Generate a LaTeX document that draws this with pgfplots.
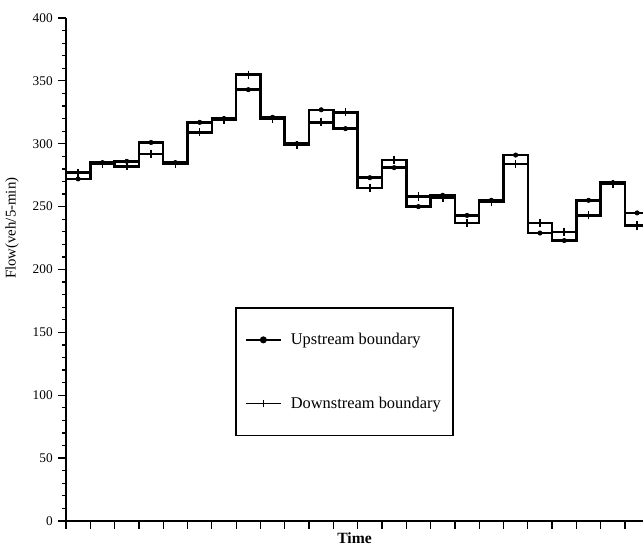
\documentclass[border=0pt]{standalone}
\usepackage{fontspec}
\setmainfont{Liberation Serif}
\usepackage{pgfplots}
\pgfplotsset{compat=1.18}
\usepackage{pgfplotstable}

% 5-min flows at the two boundaries; last row closes the final step
\pgfplotstableread{
x  U   D
0  272 277
1  285 284
2  286 282
3  301 292
4  285 284
5  317 309
6  320 319
7  343 355
8  321 320
9  300 299
10 327 317
11 312 325
12 273 265
13 281 287
14 250 258
15 259 257
16 243 237
17 255 254
18 291 284
19 229 237
20 223 230
21 255 243
22 269 268
23 245 235
24 245 235
}\flowdata

\begin{document}
\begin{tikzpicture}
\useasboundingbox (-42.24pt,-18.56pt) rectangle (369.28pt,333.44pt);
\begin{axis}[
  at={(0pt,0pt)}, anchor=south west,
  scale only axis, width=369.28pt, height=321.92pt,
  xmin=0, xmax=23.74, ymin=0, ymax=400,
  axis x line=bottom, axis y line=left,
  axis line style={-, line width=1pt},
  xtick={0,...,23}, xticklabels={},
  ytick={0,50,...,400}, minor y tick num=4,
  tick align=outside,
  major tick length=5pt, minor tick length=2.5pt,
  tick style={black, line width=0.8pt},
  /pgf/number format/assume math mode=true,
  tick label style={font=\fontsize{8.5}{10}\selectfont},
  xlabel={\textbf{Time}},
  xlabel style={at={(axis description cs:0.5,0)}, anchor=north, inner sep=0pt, yshift=-7pt, font=\fontsize{10}{12}\selectfont},
  ylabel={Flow(veh/5-min)},
  ylabel style={at={(axis description cs:-0.0937,0.582)}, anchor=center, font=\fontsize{9.5}{11}\selectfont},
  legend cell align=left,
  legend style={at={(0.293,0.425)}, anchor=north west, draw=black, line width=1pt,
    font=\fontsize{10.5}{12}\selectfont, row sep=28pt, column sep=4pt,
    inner xsep=6pt, inner ysep=14pt},
]
\addplot[black, const plot, line width=1.6pt,
  legend image code/.code={\draw[line width=1.2pt] (0pt,0pt) -- (22pt,0pt);
    \fill (11pt,0pt) circle (1.4pt);}]
  table[x=x, y=U]{\flowdata};
\addlegendentry{Upstream boundary}
\addplot[black, only marks, mark=*, mark size=1.4pt, forget plot,
  skip coords between index={24}{25}]
  table[x expr=\thisrow{x}+0.5, y=U]{\flowdata};

\addplot[black, const plot, line width=1.6pt,
  legend image code/.code={\draw[line width=0.8pt] (0pt,0pt) -- (22pt,0pt);
    \draw[line width=0.8pt] (11pt,-2.5pt) -- (11pt,2.5pt);}]
  table[x=x, y=D]{\flowdata};
\addlegendentry{Downstream boundary}
\addplot[black, only marks, mark=+, mark size=2.6pt, mark options={line width=1pt}, forget plot,
  skip coords between index={24}{25}]
  table[x expr=\thisrow{x}+0.5, y=D]{\flowdata};
\end{axis}
\end{tikzpicture}
\end{document}
